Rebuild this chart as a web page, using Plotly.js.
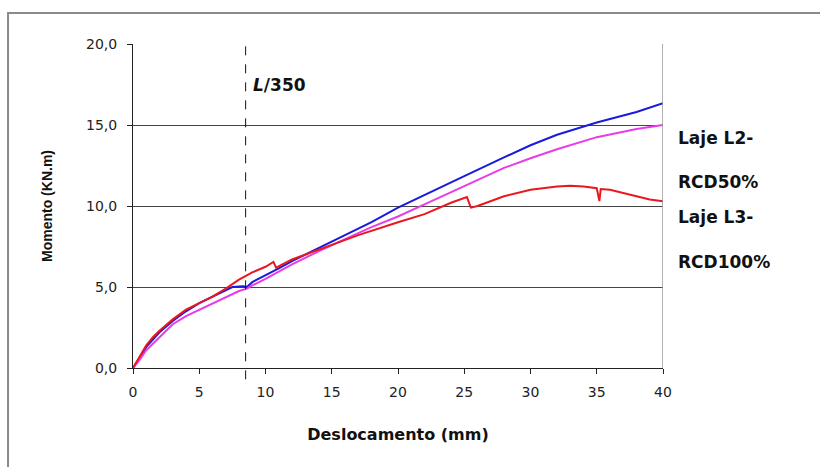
<!DOCTYPE html>
<html>
<head>
<meta charset="utf-8">
<script src="https://cdn.plot.ly/plotly-3.0.1.min.js"></script>
<style>
html,body{margin:0;padding:0;background:#fff;}
#chart{width:820px;height:467px;}
</style>
</head>
<body>
<div id="chart"></div>
<script>
// Deslocamento (mm) and Momento (KN.m)
const blueX = [0, 0.5, 1, 2, 3, 4, 5, 6, 7, 7.5, 8.3, 8.6, 9, 10, 11, 12, 13, 14, 15, 16, 18, 20, 22, 25, 28, 30, 32, 35, 38, 40];
const blueY = [0, 0.6, 1.3, 2.2, 2.9, 3.5, 4.0, 4.4, 4.8, 5.0, 5.05, 5.0, 5.3, 5.7, 6.15, 6.6, 7.0, 7.4, 7.85, 8.2, 9.0, 9.9, 10.7, 11.85, 13.0, 13.75, 14.4, 15.15, 15.8, 16.35];

const magentaX = [0, 0.5, 1, 2, 3, 4, 5, 6, 7, 8, 8.6, 9, 10, 12, 14, 15, 16, 18, 20, 22, 25, 28, 30, 32, 35, 38, 40];
const magentaY = [0, 0.5, 1.1, 1.9, 2.7, 3.2, 3.6, 4.0, 4.4, 4.75, 4.9, 5.1, 5.5, 6.4, 7.2, 7.6, 7.95, 8.7, 9.35, 10.1, 11.25, 12.35, 12.95, 13.5, 14.25, 14.75, 15.0];

const redX = [0, 0.5, 1, 1.5, 2, 3, 4, 5, 6, 7, 8, 9, 10, 10.6, 10.8, 12, 13, 15, 17, 20, 22, 24, 25, 25.2, 25.5, 26, 28, 30, 32, 33, 34, 35, 35.2, 35.3, 36, 37, 38, 39, 40];
const redY = [0, 0.7, 1.4, 1.9, 2.3, 3.0, 3.6, 4.0, 4.4, 4.9, 5.45, 5.9, 6.25, 6.55, 6.2, 6.7, 7.0, 7.6, 8.2, 9.0, 9.5, 10.2, 10.5, 10.55, 9.9, 10.0, 10.6, 11.0, 11.2, 11.25, 11.2, 11.1, 10.3, 11.05, 11.0, 10.8, 10.6, 10.4, 10.3];

const xTicks = [0, 5, 10, 15, 20, 25, 30, 35, 40];
const yTicks = [0, 5, 10, 15, 20];
const limitX = 8.5; // L/350
const legendLines = ["Laje L2-", "RCD50%", "Laje L3-", "RCD100%"];

const traces = [
  {x: blueX, y: blueY, mode: 'lines', name: 'Laje L1', line: {color: '#1a1adc', width: 2}},
  {x: magentaX, y: magentaY, mode: 'lines', name: 'Laje L2-RCD50%', line: {color: '#e83ce8', width: 2}},
  {x: redX, y: redY, mode: 'lines', name: 'Laje L3-RCD100%', line: {color: '#e8191e', width: 2}}
];

const legendY = [0.71, 0.574, 0.466, 0.327];
const annotations = legendLines.map((t, i) => ({
  xref: 'paper', yref: 'paper', x: 1.0245, y: legendY[i], xanchor: 'left', yanchor: 'middle',
  text: '<b>' + t + '</b>', showarrow: false,
  font: {family: 'DejaVu Sans', size: 17, color: '#111'}
}));
annotations.push({
  xref: 'x', yref: 'y', x: 8.9, y: 17.5, xanchor: 'left', yanchor: 'middle',
  text: '<b><i>L</i>/350</b>', showarrow: false,
  font: {family: 'DejaVu Sans', size: 17, color: '#111'}
});

const layout = {
  width: 820, height: 467,
  margin: {l: 133, r: 157, t: 44, b: 99},
  paper_bgcolor: '#fff', plot_bgcolor: '#fff',
  showlegend: false,
  separators: ',.',
  xaxis: {
    range: [0, 40], tickvals: xTicks, ticks: 'outside', ticklen: 5, tickcolor: '#222',
    ticklabelstandoff: 6,
    showline: true, linecolor: '#222', linewidth: 1, showgrid: false, zeroline: false,
    tickfont: {family: 'DejaVu Sans', size: 14, color: '#222'},
    title: {text: '<b>Deslocamento (mm)</b>', font: {family: 'DejaVu Sans', size: 16, color: '#111'}, standoff: 30}
  },
  yaxis: {
    range: [0, 20], tickvals: yTicks, tickformat: '.1f', ticks: 'outside', ticklen: 5, tickcolor: '#222',
    ticklabelstandoff: 7,
    showline: true, linecolor: '#222', linewidth: 1, showgrid: true, gridcolor: '#444', gridwidth: 1, zeroline: false,
    tickfont: {family: 'DejaVu Sans', size: 14, color: '#222'},
    title: {text: '<b>Momento (KN.m)</b>', font: {family: 'Liberation Sans', size: 14, color: '#111'}, standoff: 30}
  },
  shapes: [
    {type: 'line', xref: 'x', yref: 'paper', x0: limitX, x1: limitX, y0: -0.035, y1: 1, line: {color: '#111', width: 1, dash: 'dash'}},
    {type: 'line', xref: 'x', yref: 'y', x0: 40, x1: 40, y0: 0, y1: 20, line: {color: '#999', width: 1.5}},
    {type: 'rect', xref: 'paper', yref: 'paper', x0: -0.2358, x1: 1.35, y0: -0.4, y1: 1.0957, line: {color: '#8a8a8a', width: 2}, fillcolor: 'rgba(0,0,0,0)', layer: 'below'}
  ],
  annotations: annotations
};

Plotly.newPlot('chart', traces, layout, {displayModeBar: false, staticPlot: true});
</script>
</body>
</html>
